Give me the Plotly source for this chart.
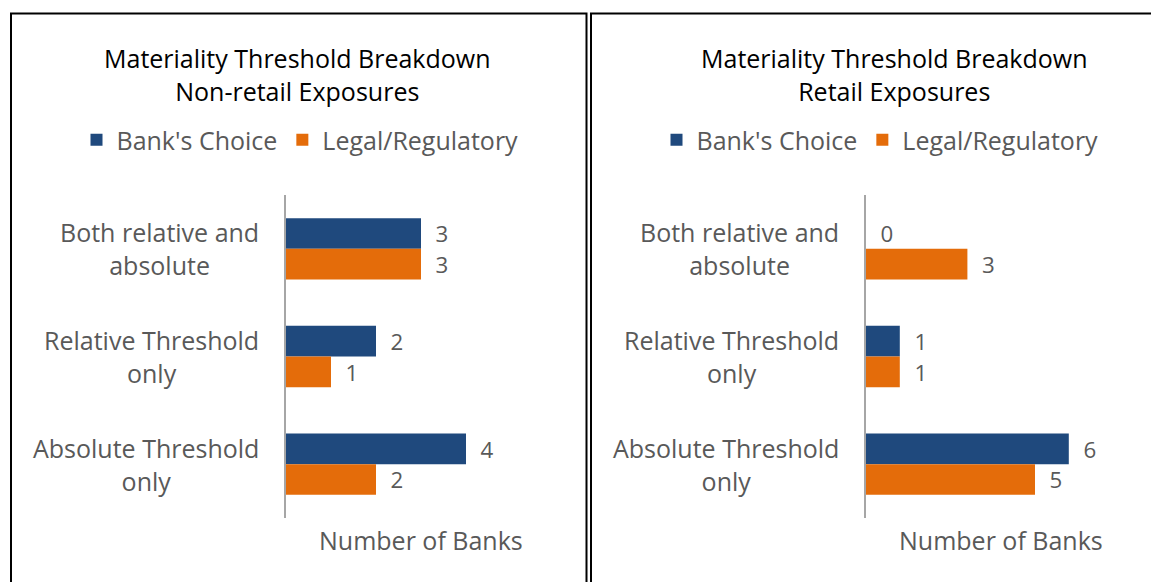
import plotly.graph_objects as go

W, H = 1151, 582

categories = ["Both relative and absolute", "Relative Threshold only", "Absolute Threshold only"]
category_labels = ["Both relative and<br>absolute", "Relative Threshold<br>only", "Absolute Threshold<br>only"]
series_names = ["Bank's Choice", "Legal/Regulatory"]
nonretail_bank = [3, 2, 4]
nonretail_legal = [3, 1, 2]
retail_bank = [0, 1, 6]
retail_legal = [3, 1, 5]
titles = ["Materiality Threshold Breakdown<br>Non-retail Exposures",
          "Materiality Threshold Breakdown<br>Retail Exposures"]
axis_title = "Number of Banks"

BLUE = "#1f497d"
ORANGE = "#e46c0a"
GRAY = "#595959"
FONT = "Open Sans"
FS = 25

def px(x):
    return x / W

def py(y):
    return 1 - y / H

fig = go.Figure()

panels = [
    dict(bank=nonretail_bank, legal=nonretail_legal, xa="x", ya="y", legend="legend"),
    dict(bank=retail_bank, legal=retail_legal, xa="x2", ya="y2", legend="legend2"),
]
for p in panels:
    for name, vals, col in [(series_names[0], p["bank"], BLUE), (series_names[1], p["legal"], ORANGE)]:
        fig.add_trace(go.Bar(
            y=categories, x=vals, name=name, orientation="h",
            marker=dict(color=col, line=dict(width=0)),
            texttemplate="\u00a0\u00a0%{x}", textposition="outside",
            textfont=dict(family=FONT, size=24, color=GRAY),
            cliponaxis=False, xaxis=p["xa"], yaxis=p["ya"], legend=p["legend"],
        ))

ydom = [py(518), py(195)]
common_y = dict(
    categoryorder="array", categoryarray=categories, autorange="reversed",
    showline=True, linecolor="#a6a6a6", linewidth=2, showgrid=False, zeroline=False,
    ticks="", showticklabels=False, domain=ydom,
)
common_x = dict(showgrid=False, zeroline=False, showticklabels=False, showline=False, ticks="")

fig.update_layout(
    width=W, height=H, margin=dict(l=0, r=0, t=0, b=0),
    paper_bgcolor="white", plot_bgcolor="white",
    barmode="group", bargap=0.43, bargroupgap=0,
    font=dict(family=FONT, color=GRAY),
    xaxis=dict(common_x, domain=[px(286), px(556)], range=[0, 6], anchor="y"),
    yaxis=dict(common_y, anchor="x"),
    xaxis2=dict(common_x, domain=[px(866), px(1102.6)], range=[0, 7], anchor="y2"),
    yaxis2=dict(common_y, anchor="x2"),
    legend=dict(orientation="h", x=px(300), xanchor="center", y=py(140), yanchor="middle",
                font=dict(family=FONT, size=FS, color=GRAY), itemwidth=30,
                bgcolor="rgba(0,0,0,0)"),
    legend2=dict(orientation="h", x=px(880), xanchor="center", y=py(140), yanchor="middle",
                 font=dict(family=FONT, size=FS, color=GRAY), itemwidth=30,
                 bgcolor="rgba(0,0,0,0)"),
    showlegend=True,
)

# category labels: block right-aligned to the axis, lines centred within the block
for ya, rx in [("y", 261), ("y2", 841)]:
    for cat, lab in zip(categories, category_labels):
        fig.add_annotation(text=lab, x=px(rx), y=cat, xref="paper", yref=ya,
                           showarrow=False, xanchor="right", yanchor="middle", align="center",
                           font=dict(family=FONT, size=FS, color=GRAY))

# titles
for cx, t in [(297, titles[0]), (894, titles[1])]:
    fig.add_annotation(text=t, x=px(cx), y=py(74), xref="paper", yref="paper",
                       showarrow=False, xanchor="center", yanchor="middle",
                       font=dict(family=FONT, size=FS, color="black"))
# axis titles
for cx in [421, 1001]:
    fig.add_annotation(text=axis_title, x=px(cx), y=py(540), xref="paper", yref="paper",
                       showarrow=False, xanchor="center", yanchor="middle",
                       font=dict(family=FONT, size=FS, color=GRAY))

# panel borders
fig.add_shape(type="rect", xref="paper", yref="paper", x0=px(11), x1=px(586.5),
              y0=py(600), y1=py(13.5), line=dict(color="black", width=2))
fig.add_shape(type="rect", xref="paper", yref="paper", x0=px(591), x1=px(1170),
              y0=py(600), y1=py(13.5), line=dict(color="black", width=2))

fig.write_html("out.html", config={"displayModeBar": False},
               post_script="document.body.style.margin='0';")
